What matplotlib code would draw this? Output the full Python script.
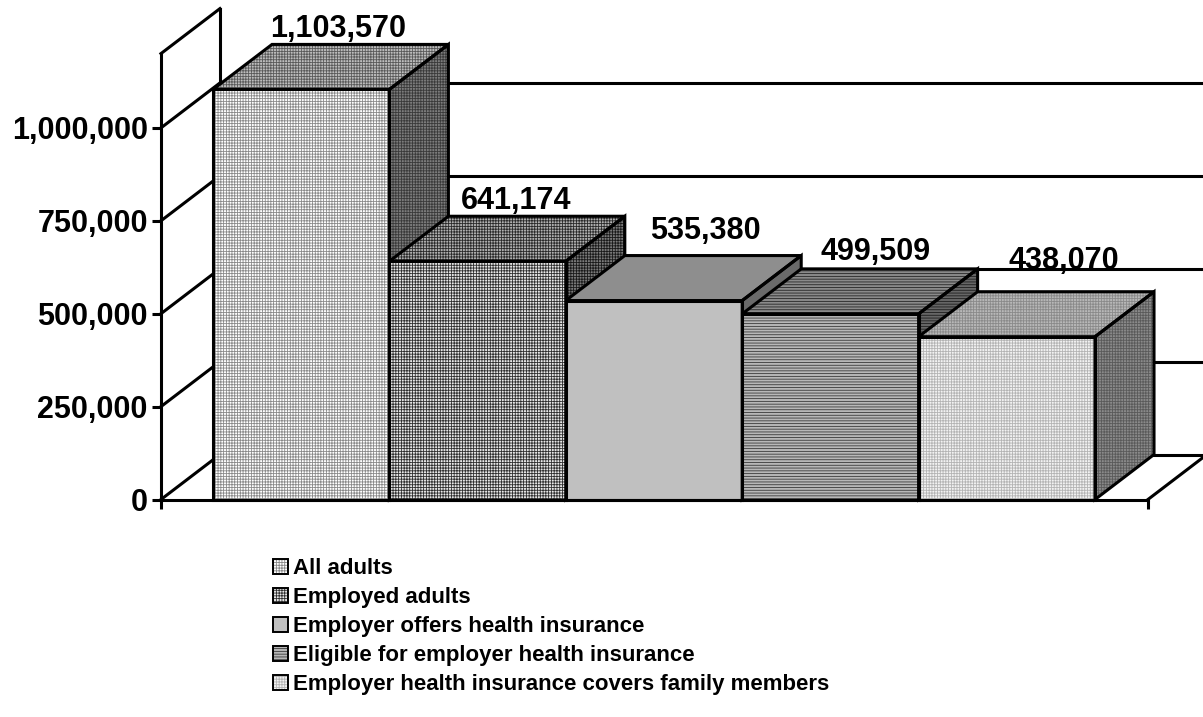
import matplotlib.pyplot as plt
from matplotlib.patches import Polygon, Patch
from matplotlib.legend_handler import HandlerTuple
from matplotlib.ticker import FuncFormatter

plt.rcParams['font.family'] = ['Liberation Sans', 'DejaVu Sans']
plt.rcParams['font.weight'] = 'bold'
plt.rcParams['hatch.linewidth'] = 0.6

# 数据
categories = ['All adults', 'Employed adults', 'Employer offers health insurance',
              'Eligible for employer health insurance',
              'Employer health insurance covers family members']
counts = [1103570, 641174, 535380, 499509, 438070]
yticks = [0, 250000, 500000, 750000, 1000000]
ymax = 1200000

# 每个柱子三个面的填充: (底色, 花纹, 花纹颜色) 正面 / 顶面 / 侧面
front_styles = [('white', '++++++', '#8a8a8a'), ('#e8e8e8', '++++++', '#303030'),
                ('#c0c0c0', '', '#c0c0c0'), ('#b8b8b8', '------', '#3a3a3a'),
                ('#f2f2f2', '++++++', '#b4b4b4')]
top_styles = [('#bdbdbd', '++++++', '#5a5a5a'), ('#b0b0b0', '++++++', '#2a2a2a'),
              ('#8e8e8e', '', '#8e8e8e'), ('#8a8a8a', '------', '#262626'),
              ('#b8b8b8', '++++++', '#8a8a8a')]
side_styles = [('#7c7c7c', '++++++', '#3a3a3a'), ('#7a7a7a', '++++++', '#1a1a1a'),
               ('#6a6a6a', '', '#6a6a6a'), ('#666666', '------', '#1e1e1e'),
               ('#8a8a8a', '++++++', '#5a5a5a')]
# 数值标签的微调 (像素)
label_dx = [-22, -20, -8, -14, -2]
label_dy = [7, 7, 17, 9, 23]

# 3D 效果参数
depth_x, depth_y = 0.3345, 121100
floor_x0, floor_x1 = -0.295, 5.30
lw = 2.2

fig = plt.figure(figsize=(12.03, 7.17), dpi=100)
ax = fig.add_axes([0, 0, 1, 1])
ax.set_xlim(-1.2075, 5.6122)
ax.set_ylim(-585300, 1344200)
ax.patch.set_visible(False)


def face(pts, style, z):
    fc, hatch, hc = style
    ax.add_patch(Polygon(pts, closed=True, facecolor=fc, hatch=hatch, edgecolor=hc,
                         linewidth=0, zorder=z))
    ax.add_patch(Polygon(pts, closed=True, fill=False, edgecolor='black',
                         linewidth=lw, joinstyle='miter', zorder=z + 0.1))


# 侧墙、背墙和网格线
bx0 = floor_x0 + depth_x
bx1 = floor_x1 + depth_x
ax.plot([floor_x0, bx0], [ymax, ymax + depth_y], color='black', lw=lw, zorder=1)
ax.plot([bx0, bx0], [depth_y, ymax + depth_y], color='black', lw=lw, zorder=1)
ax.plot([floor_x1, bx1], [0, depth_y], color='black', lw=lw, zorder=1)
for v in yticks:
    ax.plot([floor_x0, bx0], [v, v + depth_y], color='black', lw=lw, zorder=1)
    ax.plot([bx0, bx1], [v + depth_y, v + depth_y], color='black', lw=lw, zorder=1)

# 柱子
for i, v in enumerate(counts):
    z = 2 + i
    front = [(i, 0), (i + 1, 0), (i + 1, v), (i, v)]
    top = [(i, v), (i + 1, v), (i + 1 + depth_x, v + depth_y), (i + depth_x, v + depth_y)]
    side = [(i + 1, 0), (i + 1 + depth_x, depth_y), (i + 1 + depth_x, v + depth_y), (i + 1, v)]
    face(side, side_styles[i], z)
    face(top, top_styles[i], z)
    face(front, front_styles[i], z)
    ax.annotate(f'{v:,}', (i + 0.5 + depth_x, v + depth_y),
                xytext=(label_dx[i], label_dy[i]), textcoords='offset pixels',
                ha='center', va='baseline', fontsize=22, fontweight='bold', zorder=20)

# 坐标轴
for s in ['top', 'right']:
    ax.spines[s].set_visible(False)
ax.spines['left'].set_position(('data', floor_x0))
ax.spines['left'].set_bounds(0, ymax)
ax.spines['bottom'].set_position(('data', 0))
ax.spines['bottom'].set_bounds(floor_x0, floor_x1)
for s in ['left', 'bottom']:
    ax.spines[s].set_linewidth(lw)
    ax.spines[s].set_zorder(15)
ax.set_yticks(yticks)
ax.yaxis.set_major_formatter(FuncFormatter(lambda v, p: f'{int(v):,}'))
ax.set_xticks([floor_x0, floor_x1])
ax.set_xticklabels([])
ax.tick_params(axis='y', direction='out', length=6.5, width=lw, pad=3, labelsize=22)
ax.tick_params(axis='x', direction='out', length=6.5, width=lw)

# 图例
handles = []
for st in front_styles:
    fc, hatch, hc = st
    handles.append((Patch(facecolor=fc, hatch=hatch, edgecolor=hc, linewidth=0),
                    Patch(fill=False, edgecolor='black', linewidth=1.4)))
ax.legend(handles, categories, handler_map={tuple: HandlerTuple(ndivide=1)},
          loc='upper left', bbox_to_anchor=(273 / 1203, 1 - 558 / 717),
          bbox_transform=fig.transFigure, frameon=False, borderpad=0, borderaxespad=0,
          handlelength=0.68, handleheight=0.68, handletextpad=0.2, labelspacing=0.36,
          prop={'size': 16, 'weight': 'bold'})

fig.savefig('out.png', dpi=100)
